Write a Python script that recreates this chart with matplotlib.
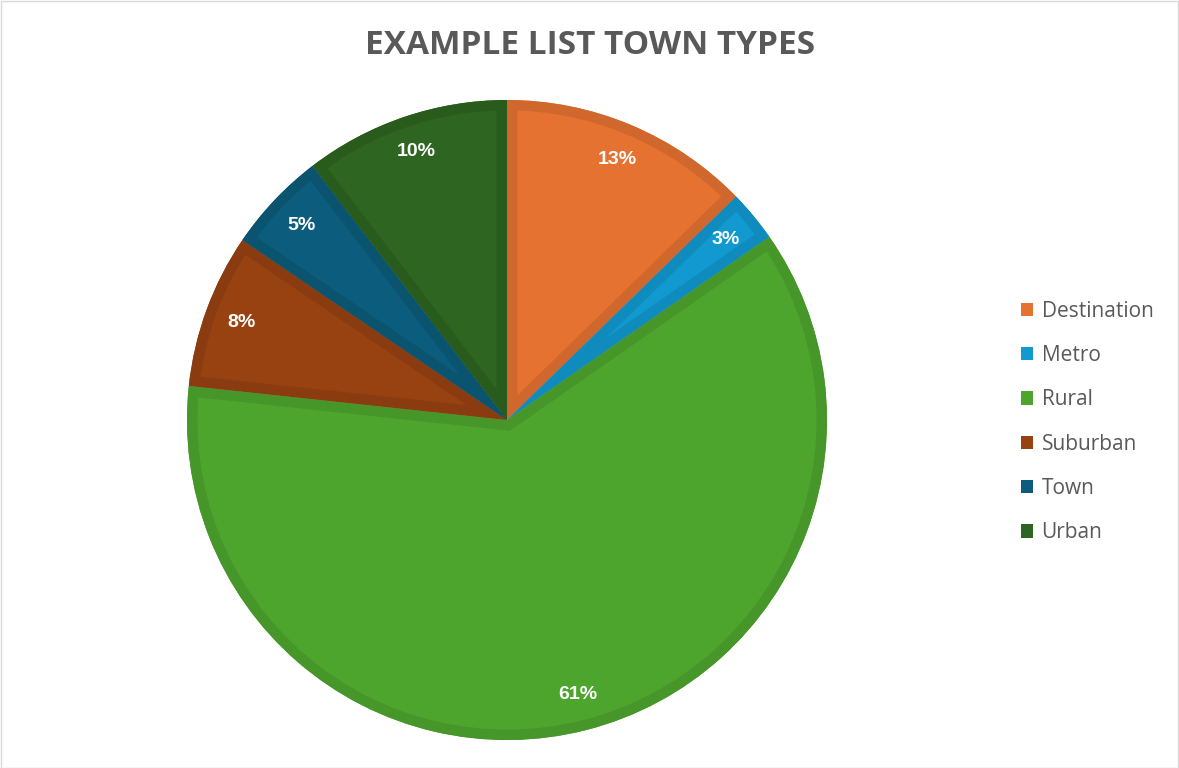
import matplotlib
matplotlib.use("Agg")
import matplotlib.pyplot as plt
from matplotlib.patches import Rectangle, PathPatch

categories = ["Destination", "Metro", "Rural", "Suburban", "Town", "Urban"]
values = [12.7, 2.6, 61.4, 7.8, 5.1, 10.4]
fill_colors = ["#E57231", "#1199D0", "#4DA52D", "#984211", "#0C5D7D", "#2E6520"]
edge_colors = ["#D0682D", "#0F8BBD", "#46962A", "#8A3C10", "#0B5470", "#295B1C"]
title = "EXAMPLE LIST TOWN TYPES"

W, H = 1179, 768
fig = plt.figure(figsize=(W / 100, H / 100), dpi=100)
cx, cy, r = 507, 420, 320
ax = fig.add_axes([(cx - r) / W, (H - cy - r) / H, 2 * r / W, 2 * r / H])

wedges, texts, autotexts = ax.pie(
    values, colors=fill_colors, startangle=90, counterclock=False,
    autopct="%1.0f%%", pctdistance=0.885, radius=1.0,
    textprops=dict(color="white", fontsize=14, fontweight="bold", family="Liberation Sans"),
    wedgeprops=dict(linewidth=0),
)
ax.set_xlim(-1, 1)
ax.set_ylim(-1, 1)
ax.set_aspect("equal")
ax.axis("off")

# inner darker border for each wedge (stroke clipped to the wedge itself)
for w, ec in zip(wedges, edge_colors):
    path = w.get_path()
    bp = PathPatch(path, transform=ax.transData, facecolor="none", edgecolor=ec,
                   linewidth=15, joinstyle="miter", zorder=w.get_zorder() + 0.5)
    ax.add_patch(bp)
    bp.set_clip_path(path, ax.transData)
for t in autotexts:
    t.set_zorder(5)

fig.text(590 / W, 1 - 45 / H, title, ha="center", va="center", fontsize=24,
         fontweight="bold", color="#595959", family="Open Sans")

leg = fig.legend(wedges, categories, loc="upper left",
                 bbox_to_anchor=(1002 / W, 1 - 282 / H), frameon=False,
                 labelcolor="#595959", handlelength=0.6, handleheight=0.6,
                 handletextpad=0.4, labelspacing=1.12, prop=dict(family="Open Sans", size=15))
for h in leg.legend_handles:
    h.set_linewidth(0)

fig.add_artist(Rectangle((0.5 / W, 0.5 / H), 1 - 1.5 / W, 1 - 1.5 / H, transform=fig.transFigure,
                         fill=False, edgecolor="#D9D9D9", linewidth=1))

fig.savefig("out.png", dpi=100, facecolor="white")
